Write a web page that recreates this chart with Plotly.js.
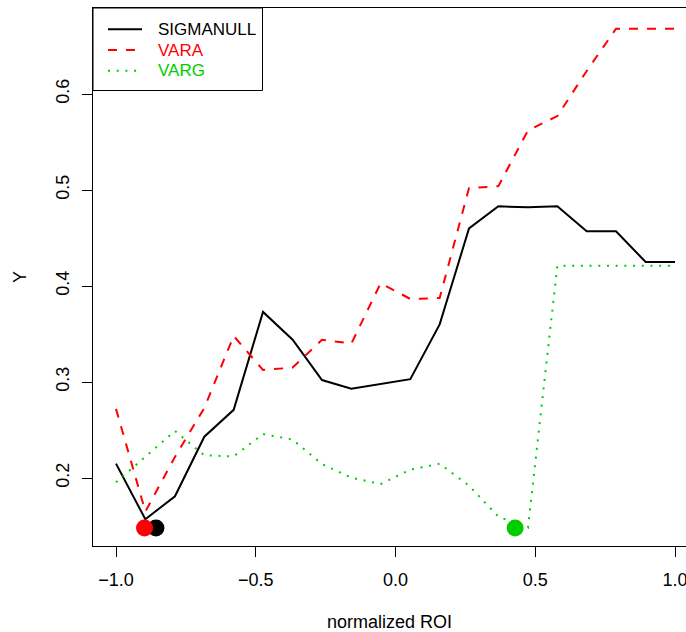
<!DOCTYPE html>
<html>
<head>
<meta charset="utf-8">
<script src="https://cdn.plot.ly/plotly-3.0.1.min.js"></script>
<style>html,body{margin:0;padding:0;background:#fff;}#chart{width:686px;height:632px;}</style>
</head>
<body>
<div id="chart"></div>
<script>
// ---- data ----
const roi = [-1.000,-0.895,-0.789,-0.684,-0.579,-0.474,-0.368,-0.263,-0.158,-0.053,
              0.053, 0.158, 0.263, 0.368, 0.474, 0.579, 0.684, 0.789, 0.895, 1.000];
const sigmanull = [0.215,0.157,0.181,0.243,0.271,0.373,0.344,0.302,0.293,0.298,
                   0.303,0.360,0.460,0.483,0.482,0.483,0.457,0.457,0.425,0.425];
const vara = [0.272,0.165,0.222,0.273,0.348,0.3125,0.315,0.344,0.340,0.403,
              0.3865,0.3875,0.502,0.504,0.562,0.577,0.624,0.668,0.668,0.668];
const varg = [0.1955,0.222,0.249,0.2236,0.2225,0.2458,0.240,0.2145,0.2003,0.1937,
              0.2087,0.2149,0.192,0.1597,0.1482,0.421,0.421,0.421,0.421,0.421];
const seriesNames = ['SIGMANULL','VARA','VARG'];
const markX = [-0.857,-0.898,0.428];
const markY = [0.148,0.148,0.148];
const xTicks = [-1,-0.5,0,0.5,1];
const yTicks = [0.2,0.3,0.4,0.5,0.6];

// ---- styles ----
const colors = ['#000000','#FF0000','#00CD00'];
const dashes = ['solid','9px,9px','2px,6.7px'];
const W = 686, H = 632;
const M = {l:93, r:0, t:8, b:86};
const pw = W - M.l - M.r, ph = H - M.t - M.b;
const px2x = p => (p - M.l) / pw;
const py2y = p => (H - M.b - p) / ph;
const FONT = 'Liberation Sans, Arial, Helvetica, sans-serif';
const AX = 18;

const ys = [sigmanull, vara, varg];
const traces = ys.map((y,i) => ({
  x: roi, y: y, type:'scatter', mode:'lines', name: seriesNames[i],
  line:{color:colors[i], width:2, dash:dashes[i]}, showlegend:false, hoverinfo:'skip'
}));
traces.push({
  x: markX, y: markY, type:'scatter', mode:'markers', showlegend:false, hoverinfo:'skip',
  marker:{size:17, color:colors, line:{width:0}}
});

// manual R-style legend box
const shapes = [{type:'rect', xref:'paper', yref:'paper',
  x0:px2x(93), x1:px2x(262.5), y0:py2y(90.5), y1:py2y(8),
  line:{color:'#000', width:1}, fillcolor:'rgba(255,255,255,0)'}];
const annotations = [];
const rowY = [29.3, 50, 70.7];
seriesNames.forEach((n,i) => {
  shapes.push({type:'line', xref:'paper', yref:'paper',
    x0:px2x(108), x1:px2x(142), y0:py2y(rowY[i]), y1:py2y(rowY[i]),
    line:{color:colors[i], width:2, dash:dashes[i]}});
  annotations.push({xref:'paper', yref:'paper', x:px2x(156), y:py2y(rowY[i]),
    xanchor:'left', yanchor:'middle', showarrow:false, text:n,
    font:{family:FONT, size:17, color:colors[i]}});
});

const layout = {
  width:W, height:H, margin:M,
  paper_bgcolor:'#fff', plot_bgcolor:'#fff',
  font:{family:FONT, size:AX, color:'#000'},
  showlegend:false,
  xaxis:{
    range:[-1 - 23/279.5, 1 + 11/279.5], tickvals:xTicks, tickformat:'.1f',
    showgrid:false, zeroline:false, showline:true, mirror:true, linecolor:'#000', linewidth:1,
    ticks:'outside', ticklen:10, tickcolor:'#000', tickwidth:1,
    ticklabelstandoff:7, ticklabeloverflow:'allow',
    tickfont:{family:FONT, size:AX, color:'#000'},
    title:{text:'normalized ROI', font:{family:FONT, size:AX, color:'#000'}, standoff:26}
  },
  yaxis:{
    range:[0.2 - 68/960, 0.6 + 86/960], tickvals:yTicks, tickformat:'.1f', tickangle:-90,
    showgrid:false, zeroline:false, showline:true, mirror:false, linecolor:'#000', linewidth:1,
    ticks:'outside', ticklen:10, tickcolor:'#000', tickwidth:1,
    ticklabelstandoff:6, ticklabeloverflow:'allow',
    tickfont:{family:FONT, size:AX, color:'#000'},
    title:{text:'Y', font:{family:FONT, size:AX, color:'#000'}, standoff:21}
  },
  shapes:shapes, annotations:annotations
};
Plotly.newPlot('chart', traces, layout, {staticPlot:true, displayModeBar:false});
</script>
</body>
</html>
